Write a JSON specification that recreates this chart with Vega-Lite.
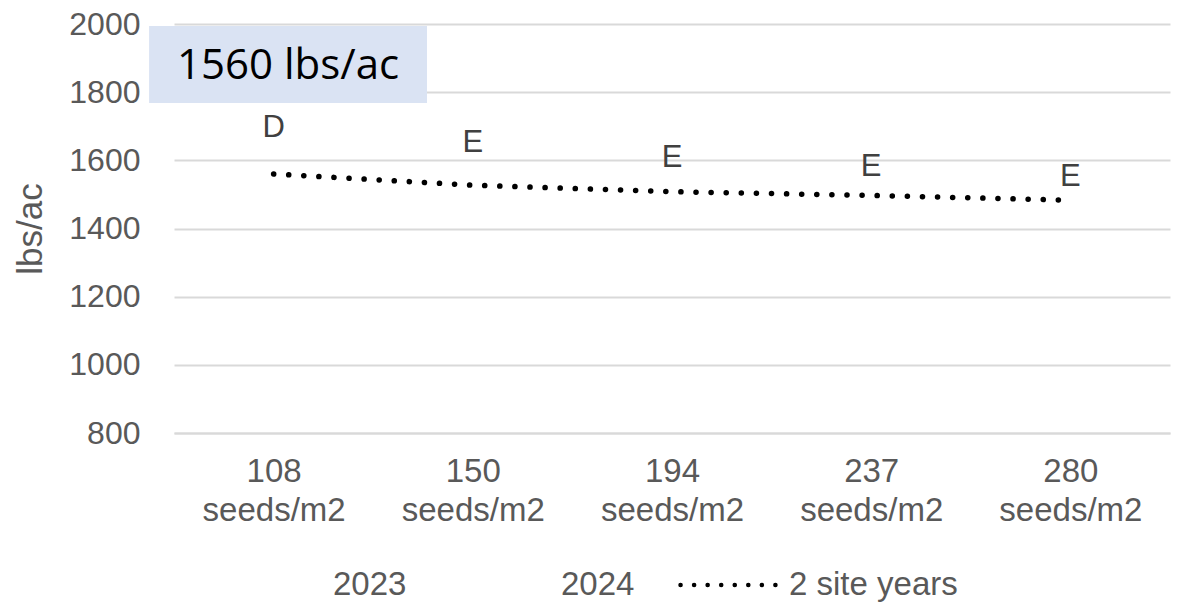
{
  "$schema": "https://vega.github.io/schema/vega-lite/v6.json",
  "width": 996,
  "height": 409,
  "autosize": "none",
  "padding": {"left": 174, "top": 24, "right": 13, "bottom": 170},
  "background": "#ffffff",
  "config": {
    "view": {"stroke": null},
    "font": "Liberation Sans"
  },
  "layer": [
    {
      "data": {
        "values": [
          {"rate": "108 seeds/m2", "yield": 1560, "letter": "D", "letter_y": 1695, "series": "2 site years"},
          {"rate": "150 seeds/m2", "yield": 1527, "letter": "E", "letter_y": 1650, "series": "2 site years"},
          {"rate": "194 seeds/m2", "yield": 1508, "letter": "E", "letter_y": 1607, "series": "2 site years"},
          {"rate": "237 seeds/m2", "yield": 1497, "letter": "E", "letter_y": 1581, "series": "2 site years"},
          {"rate": "280 seeds/m2", "yield": 1483, "letter": "E", "letter_y": 1552, "series": "2 site years"}
        ]
      },
      "layer": [
        {
          "mark": {"type": "line", "strokeWidth": 5.5, "strokeDash": [0.1, 15], "strokeCap": "round"},
          "encoding": {
            "x": {
              "field": "rate", "type": "nominal", "sort": null,
              "scale": {"type": "point", "padding": 0.5},
              "axis": {
                "title": null, "labelAngle": 0,
                "labelExpr": "split(datum.label, ' ')",
                "labelFontSize": 33, "labelColor": "#595959", "labelLineHeight": 39,
                "labelPadding": 22, "ticks": false, "grid": false,
                "domainColor": "#d9d9d9", "domainWidth": 2
              }
            },
            "y": {
              "field": "yield", "type": "quantitative",
              "scale": {"domain": [800, 2000], "nice": false, "zero": false},
              "axis": {
                "title": "lbs/ac", "values": [800, 1000, 1200, 1400, 1600, 1800, 2000], "format": "d",
                "labelFontSize": 32, "labelColor": "#595959", "labelPadding": 34,
                "ticks": false, "tickSize": 0, "domain": false,
                "gridColor": "#d9d9d9", "gridWidth": 2,
                "titleFontSize": 35, "titleFontWeight": "normal", "titleColor": "#595959", "titlePadding": 20
              }
            },
            "color": {
              "field": "series", "type": "nominal",
              "scale": {"domain": ["2023", "2024", "2 site years"], "range": ["#ffffff", "#ffffff", "#000000"]},
              "legend": {
                "orient": "none", "legendX": 48, "legendY": 510, "direction": "horizontal",
                "title": null, "padding": 0,
                "symbolType": "stroke", "symbolSize": 9409, "symbolStrokeWidth": 4.5,
                "symbolDash": [0.1, 13.45],
                "labelFontSize": 33, "labelColor": "#595959", "labelOffset": 9,
                "columnPadding": 36, "labelLimit": 0,
                "encode": {"symbols": {"update": {"strokeCap": {"value": "round"}}}}
              }
            }
          }
        },
        {
          "mark": {"type": "text", "fontSize": 31, "color": "#404040", "baseline": "middle", "align": "center"},
          "encoding": {
            "x": {"field": "rate", "type": "nominal", "sort": null},
            "y": {"field": "letter_y", "type": "quantitative"},
            "text": {"field": "letter"}
          }
        }
      ]
    },
    {
      "data": {"values": [{"note": "1560 lbs/ac"}]},
      "layer": [
        {
          "mark": {"type": "rect", "color": "#dae3f3"},
          "encoding": {
            "x": {"datum": -0.025, "type": "quantitative", "scale": {"domain": [0, 1]}, "axis": null},
            "x2": {"datum": 0.254},
            "y": {"datum": 1994, "type": "quantitative"},
            "y2": {"datum": 1768}
          }
        },
        {
          "mark": {"type": "text", "font": "Open Sans", "fontSize": 42, "color": "#000000", "baseline": "middle", "align": "center"},
          "encoding": {
            "x": {"datum": 0.1145, "type": "quantitative", "axis": null},
            "y": {"datum": 1877, "type": "quantitative"},
            "text": {"field": "note"}
          }
        }
      ]
    }
  ],
  "resolve": {"scale": {"x": "independent"}}
}
